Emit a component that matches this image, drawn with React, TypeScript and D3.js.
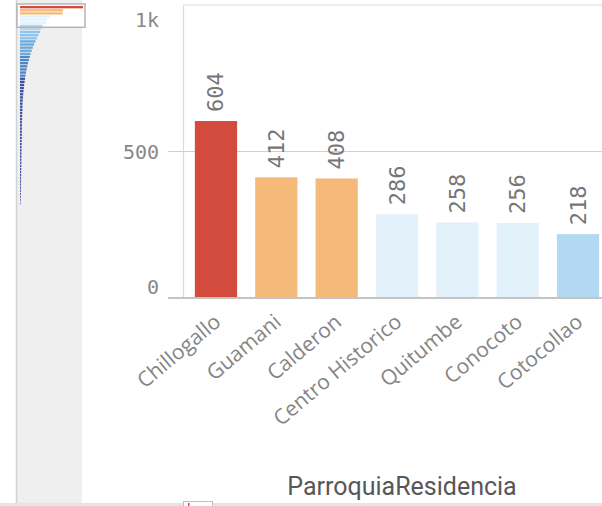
import React from "react";
import * as d3 from "d3";

const categories = ["Chillogallo", "Guamani", "Calderon", "Centro Historico", "Quitumbe", "Conocoto", "Cotocollao"];
const values = [604, 412, 408, 286, 258, 256, 218];
// remaining (scrolled-out) categories, as shown in the overview strip on the left
const restValues = [205, 190, 176, 162, 148, 135, 123, 112, 102, 93, 85, 77, 70, 64, 58, 53, 48, 44, 40, 37, 34, 31, 29, 27, 25, 24, 23, 22, 21, 20, 19, 19, 18, 18, 17, 17, 16, 16, 15, 15, 14, 14, 13, 13, 12, 12, 11, 11, 10, 10, 9, 9, 8, 8, 7, 6, 5];
const yTicks = [0, 500, 1000];
const yTickLabels = ["0", "500", "1k"];
const axisTitle = "ParroquiaResidencia";

const classBreaks = [50, 100, 150, 200, 250, 300, 400, 500];
const classColors = ["#3f51a3", "#4f86c6", "#6aa9de", "#8ec4ec", "#b3d9f2", "#e3f1fb", "#fbe0c0", "#f5b97a", "#d24b3c"];

export default function App() {
  const W = 602, H = 506;
  const color = d3.scaleThreshold<number, string>().domain(classBreaks).range(classColors);
  const y = d3.scaleLinear().domain([0, 1000]).range([298, 5]);
  const x = d3.scaleBand<string>().domain(categories).range([184, 610]).paddingInner(0.3).paddingOuter(0.18);
  const allValues = [...values, ...restValues];
  const idx = allValues.map((_, i) => String(i));
  const rowH = 3.1;
  const my = d3.scaleBand<string>().domain(idx).range([6, 6 + allValues.length * rowH]).paddingInner(0.25);
  const mx = d3.scaleLinear().domain([0, d3.max(allValues) as number]).range([20, 83]);
  const boxTop = 4, boxBottom = (my(String(categories.length)) as number) - 0.5;

  const mono = "'DejaVu Sans Mono', monospace";
  return (
    <svg width={W} height={H} style={{ position: "absolute", left: 0, top: 0, background: "#fff" }}>
      {/* overview strip */}
      <rect x={16} y={0} width={66} height={H} fill="#efefef" />
      <line x1={16.5} x2={16.5} y1={0} y2={H} stroke="#d2d2d2" strokeWidth={1.5} />
      <rect x={17} y={boxTop} width={68} height={boxBottom - boxTop} fill="#fff" />
      {allValues.map((v, i) => (
        <rect key={"m" + i} x={mx(0)} y={my(String(i))} width={mx(v) - mx(0)} height={my.bandwidth()} fill={color(v)} />
      ))}
      <rect x={17} y={boxTop} width={68} height={boxBottom - boxTop} fill="none" stroke="#b4b4b4" strokeWidth={1.5} />

      {/* frame & grid */}
      <line x1={183.5} x2={602} y1={y(1000)} y2={y(1000)} stroke="#dcdcdc" strokeWidth={1.2} />
      <line x1={183.5} x2={183.5} y1={y(1000)} y2={y(0)} stroke="#dcdcdc" strokeWidth={1.2} />
      <line x1={168} x2={602} y1={y(500)} y2={y(500)} stroke="#d0d0d0" strokeWidth={1.2} />

      {/* bars */}
      {categories.map((c, i) => (
        <rect key={c} x={x(c)} y={y(values[i])} width={x.bandwidth()} height={y(0) - y(values[i])} fill={color(values[i])} />
      ))}
      <line x1={168} x2={602} y1={y(0)} y2={y(0)} stroke="#c4c4c4" strokeWidth={2} />

      {/* y labels */}
      {yTicks.map((t, i) => {
        const off = t === 1000 ? 15 : t === 0 ? -11 : 0;
        return (
          <text key={t} x={159} y={y(t) + off} textAnchor="end" dominantBaseline="central" fontFamily={mono} fontSize={20} fill="#888888">
            {yTickLabels[i]}
          </text>
        );
      })}

      {/* value labels */}
      {categories.map((c, i) => {
        const cx = (x(c) as number) + x.bandwidth() / 2;
        return (
          <text key={"v" + c} transform={`translate(${cx},${y(values[i]) - 9}) rotate(-90)`} textAnchor="start" dominantBaseline="central" fontFamily={mono} fontSize={22} fill="#767676">
            {values[i]}
          </text>
        );
      })}

      {/* x labels */}
      {categories.map((c) => {
        const cx = (x(c) as number) + x.bandwidth() / 2;
        return (
          <text key={"x" + c} transform={`translate(${cx + 1},318) rotate(-40)`} textAnchor="end" dominantBaseline="central" fontFamily="'Open Sans', sans-serif" fontSize={21} fill="#858585">
            {c}
          </text>
        );
      })}

      <text x={402} y={486} textAnchor="middle" dominantBaseline="central" fontFamily="Roboto, sans-serif" fontSize={25} fill="#575757">
        {axisTitle}
      </text>

      {/* scrollbar */}
      <rect x={0} y={503} width={W} height={3} fill="#e4e4e4" />
      <rect x={183.5} y={501.5} width={29} height={6} fill="#fff" stroke="#c0c0c0" strokeWidth={1} />
      <rect x={188} y={503} width={1.5} height={3} fill="#d24b3c" />
    </svg>
  );
}
